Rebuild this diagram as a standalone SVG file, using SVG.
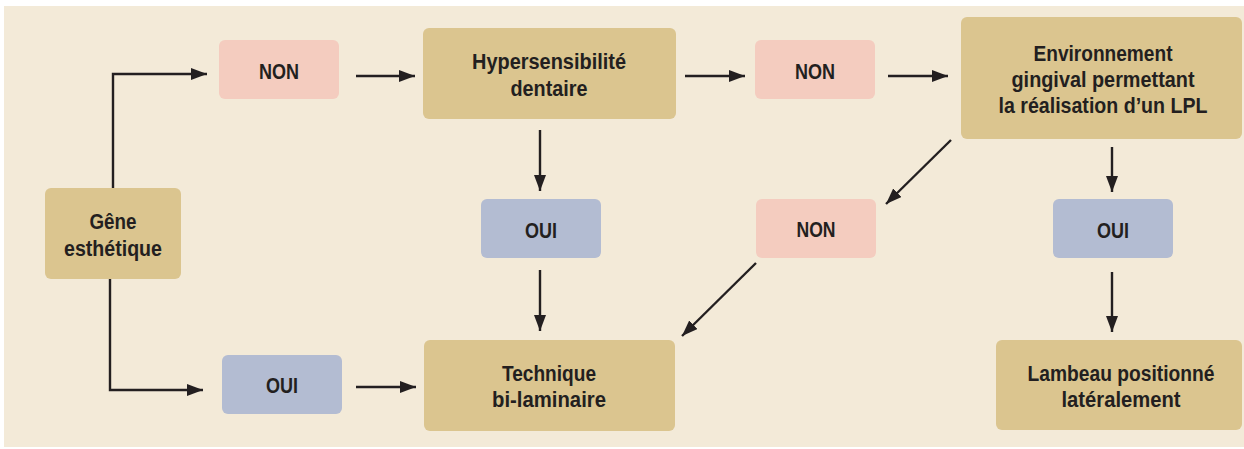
<svg xmlns="http://www.w3.org/2000/svg" width="1244" height="449" viewBox="0 0 1244 449">
<style>
.bg{fill:#F3EAD8}
.tan{fill:#DBC58F}
.pink{fill:#F4CCBF}
.blue{fill:#B3BCD2}
text{font-family:"Liberation Sans",Arial,sans-serif;font-weight:bold;font-size:22px;fill:#231F20;text-anchor:middle}
.c{fill:none;stroke:#231F20;stroke-width:2.4}
</style>
<defs>
<marker id="ah" viewBox="0 0 16 12" refX="16" refY="6" markerWidth="16" markerHeight="12" markerUnits="userSpaceOnUse" orient="auto">
<path d="M0,0 L16,6 L0,12 z" fill="#231F20"/>
</marker>
</defs>
<rect class="bg" x="4" y="6" width="1240" height="441"/>
<g id="connectors">
<path class="c" d="M113,188 V74 H207" marker-end="url(#ah)"/>
<path class="c" d="M110,279 V390 H203" marker-end="url(#ah)"/>
<path class="c" d="M356,76 H415" marker-end="url(#ah)"/>
<path class="c" d="M356,387 H416" marker-end="url(#ah)"/>
<path class="c" d="M685,76 H745" marker-end="url(#ah)"/>
<path class="c" d="M888,76 H948" marker-end="url(#ah)"/>
<path class="c" d="M540,130 V191" marker-end="url(#ah)"/>
<path class="c" d="M540,270 V331" marker-end="url(#ah)"/>
<path class="c" d="M951,140 L886,204" marker-end="url(#ah)"/>
<path class="c" d="M756,263 L682,336" marker-end="url(#ah)"/>
<path class="c" d="M1112,147 V192" marker-end="url(#ah)"/>
<path class="c" d="M1112,272 V332" marker-end="url(#ah)"/>
</g>
<g id="gene">
<rect class="tan" x="45" y="188" width="136" height="91" rx="6"/>
<text x="113" y="229" textLength="47" lengthAdjust="spacingAndGlyphs">Gêne</text>
<text x="113" y="256" textLength="98" lengthAdjust="spacingAndGlyphs">esthétique</text>
</g>
<g id="non1">
<rect class="pink" x="219" y="40" width="120" height="59" rx="6"/>
<text x="279" y="79" textLength="40" lengthAdjust="spacingAndGlyphs">NON</text>
</g>
<g id="oui1">
<rect class="blue" x="222" y="355" width="120" height="59" rx="6"/>
<text x="282" y="393" textLength="32" lengthAdjust="spacingAndGlyphs">OUI</text>
</g>
<g id="hyper">
<rect class="tan" x="423" y="28" width="253" height="91" rx="6"/>
<text x="549" y="69" textLength="154" lengthAdjust="spacingAndGlyphs">Hypersensibilité</text>
<text x="549" y="96" textLength="77" lengthAdjust="spacingAndGlyphs">dentaire</text>
</g>
<g id="oui2">
<rect class="blue" x="481" y="199" width="120" height="59" rx="6"/>
<text x="541" y="238" textLength="32" lengthAdjust="spacingAndGlyphs">OUI</text>
</g>
<g id="technique">
<rect class="tan" x="424" y="340" width="251" height="91" rx="6"/>
<text x="549" y="381" textLength="94" lengthAdjust="spacingAndGlyphs">Technique</text>
<text x="549" y="407" textLength="114" lengthAdjust="spacingAndGlyphs">bi-laminaire</text>
</g>
<g id="non2">
<rect class="pink" x="755" y="40" width="120" height="59" rx="6"/>
<text x="815" y="79" textLength="40" lengthAdjust="spacingAndGlyphs">NON</text>
</g>
<g id="non3">
<rect class="pink" x="756" y="199" width="120" height="59" rx="6"/>
<text x="816" y="237" textLength="39" lengthAdjust="spacingAndGlyphs">NON</text>
</g>
<g id="environnement">
<rect class="tan" x="961" y="17" width="281" height="122" rx="6"/>
<text x="1103" y="61" textLength="139" lengthAdjust="spacingAndGlyphs">Environnement</text>
<text x="1103" y="87" textLength="183" lengthAdjust="spacingAndGlyphs">gingival permettant</text>
<text x="1103" y="113" textLength="209" lengthAdjust="spacingAndGlyphs">la réalisation d’un LPL</text>
</g>
<g id="oui3">
<rect class="blue" x="1053" y="199" width="120" height="59" rx="6"/>
<text x="1113" y="238" textLength="32" lengthAdjust="spacingAndGlyphs">OUI</text>
</g>
<g id="lambeau">
<rect class="tan" x="996" y="340" width="246" height="90" rx="6"/>
<text x="1121" y="381" textLength="187" lengthAdjust="spacingAndGlyphs">Lambeau positionné</text>
<text x="1121" y="407" textLength="119" lengthAdjust="spacingAndGlyphs">latéralement</text>
</g>
</svg>
